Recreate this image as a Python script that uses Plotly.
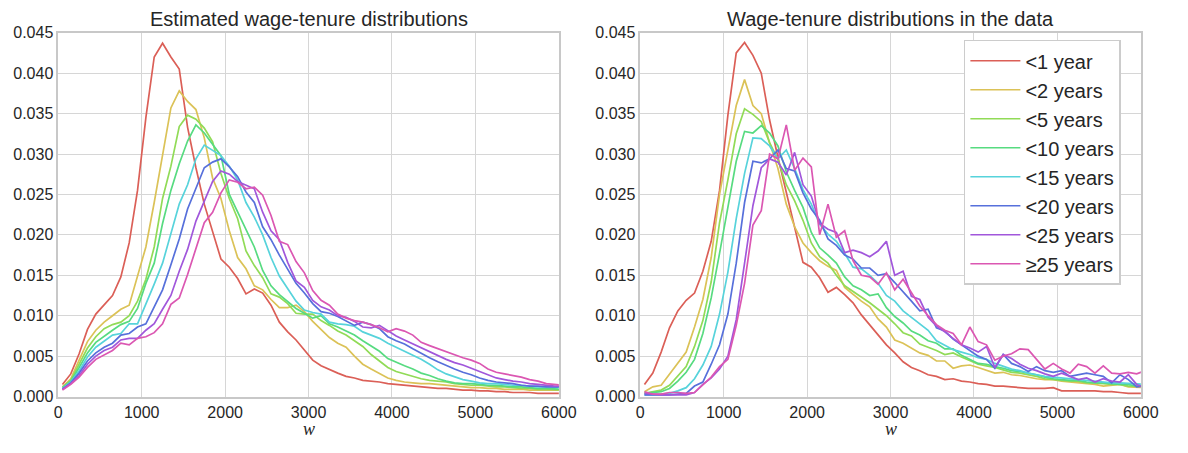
import plotly.graph_objects as go

# wage grid (bin centres)
w = [50, 150, 250, 350, 450, 550, 650, 750, 850, 950,
     1050, 1150, 1250, 1350, 1450, 1550, 1650, 1750, 1850, 1950,
     2050, 2150, 2250, 2350, 2450, 2550, 2650, 2750, 2850, 2950,
     3050, 3150, 3250, 3350, 3450, 3550, 3650, 3750, 3850, 3950,
     4050, 4150, 4250, 4350, 4450, 4550, 4650, 4750, 4850, 4950,
     5050, 5150, 5250, 5350, 5450, 5550, 5650, 5750, 5850, 5950,
     6050]

labels = ["<1 year", "<2 years", "<5 years", "<10 years",
          "<15 years", "<20 years", "<25 years", "\u226525 years"]
colors = ["#db5f57", "#dbc257", "#91db57", "#57db80",
          "#57d3db", "#5770db", "#a157db", "#db57b2"]

# ---- Estimated distributions (left panel) ----
est_lt1 = [0.0015, 0.0028, 0.0053, 0.0083, 0.0102, 0.0114, 0.0125, 0.0148, 0.0190, 0.0255,
           0.0345, 0.0420, 0.0437, 0.0420, 0.0405, 0.0333, 0.0283, 0.0238, 0.0205, 0.0170,
           0.0160, 0.0146, 0.0127, 0.0133, 0.0128, 0.0113, 0.0092, 0.0080, 0.0070, 0.0058,
           0.0045, 0.0038, 0.0033, 0.0029, 0.0025, 0.0023, 0.0020, 0.0019, 0.0018, 0.0016,
           0.0015, 0.0014, 0.0013, 0.0012, 0.0011, 0.0010, 0.0010, 0.0009, 0.0008, 0.0008,
           0.0007, 0.0007, 0.0006, 0.0006, 0.0005, 0.0005, 0.0005, 0.0004, 0.0004, 0.0004,
           0.0004]
est_lt2 = [0.0012, 0.0022, 0.0045, 0.0068, 0.0082, 0.0092, 0.0100, 0.0108, 0.0113, 0.0150,
           0.0185, 0.0240, 0.0300, 0.0357, 0.0378, 0.0365, 0.0355, 0.0320, 0.0270, 0.0245,
           0.0205, 0.0172, 0.0158, 0.0137, 0.0132, 0.0120, 0.0110, 0.0110, 0.0113, 0.0105,
           0.0093, 0.0083, 0.0073, 0.0066, 0.0061, 0.0050, 0.0040, 0.0034, 0.0029, 0.0023,
           0.0020, 0.0018, 0.0017, 0.0016, 0.0016, 0.0015, 0.0014, 0.0013, 0.0012, 0.0011,
           0.0011, 0.0010, 0.0010, 0.0009, 0.0009, 0.0009, 0.0008, 0.0008, 0.0008, 0.0008,
           0.0008]
est_lt5 = [0.0011, 0.0020, 0.0040, 0.0060, 0.0074, 0.0084, 0.0089, 0.0092, 0.0100, 0.0118,
           0.0145, 0.0185, 0.0245, 0.0285, 0.0334, 0.0348, 0.0343, 0.0332, 0.0315, 0.0276,
           0.0245, 0.0220, 0.0180, 0.0162, 0.0147, 0.0127, 0.0123, 0.0115, 0.0103, 0.0102,
           0.0102, 0.0094, 0.0088, 0.0081, 0.0076, 0.0069, 0.0062, 0.0052, 0.0044, 0.0036,
           0.0031, 0.0028, 0.0025, 0.0022, 0.0020, 0.0019, 0.0018, 0.0016, 0.0015, 0.0014,
           0.0014, 0.0013, 0.0012, 0.0012, 0.0011, 0.0010, 0.0010, 0.0009, 0.0009, 0.0008,
           0.0008]
est_lt10 = [0.0011, 0.0019, 0.0036, 0.0054, 0.0067, 0.0075, 0.0082, 0.0089, 0.0093, 0.0109,
            0.0140, 0.0165, 0.0214, 0.0255, 0.0288, 0.0316, 0.0336, 0.0326, 0.0312, 0.0298,
            0.0250, 0.0228, 0.0206, 0.0185, 0.0156, 0.0137, 0.0126, 0.0118, 0.0109, 0.0103,
            0.0097, 0.0100, 0.0090, 0.0086, 0.0081, 0.0076, 0.0069, 0.0063, 0.0056, 0.0047,
            0.0042, 0.0038, 0.0034, 0.0029, 0.0026, 0.0022, 0.0019, 0.0017, 0.0016, 0.0016,
            0.0015, 0.0014, 0.0014, 0.0013, 0.0012, 0.0012, 0.0011, 0.0010, 0.0010, 0.0009,
            0.0009]
est_lt15 = [0.0010, 0.0018, 0.0032, 0.0049, 0.0061, 0.0069, 0.0076, 0.0078, 0.0090, 0.0090,
            0.0114, 0.0139, 0.0165, 0.0203, 0.0238, 0.0262, 0.0294, 0.0311, 0.0305, 0.0298,
            0.0285, 0.0268, 0.0240, 0.0222, 0.0200, 0.0172, 0.0149, 0.0134, 0.0118, 0.0107,
            0.0104, 0.0102, 0.0092, 0.0090, 0.0089, 0.0087, 0.0080, 0.0076, 0.0072, 0.0066,
            0.0061, 0.0057, 0.0052, 0.0046, 0.0040, 0.0033, 0.0028, 0.0024, 0.0021, 0.0019,
            0.0017, 0.0016, 0.0016, 0.0015, 0.0014, 0.0014, 0.0013, 0.0012, 0.0012, 0.0011,
            0.0011]
est_lt20 = [0.0009, 0.0017, 0.0029, 0.0044, 0.0054, 0.0061, 0.0066, 0.0076, 0.0078, 0.0086,
            0.0090, 0.0110, 0.0132, 0.0163, 0.0195, 0.0232, 0.0258, 0.0283, 0.0290, 0.0294,
            0.0284, 0.0272, 0.0253, 0.0240, 0.0210, 0.0194, 0.0175, 0.0157, 0.0140, 0.0128,
            0.0115, 0.0105, 0.0103, 0.0099, 0.0094, 0.0088, 0.0092, 0.0089, 0.0084, 0.0074,
            0.0069, 0.0065, 0.0059, 0.0053, 0.0048, 0.0043, 0.0038, 0.0034, 0.0030, 0.0027,
            0.0023, 0.0020, 0.0018, 0.0017, 0.0016, 0.0014, 0.0013, 0.0013, 0.0012, 0.0012,
            0.0012]
est_lt25 = [0.0009, 0.0016, 0.0026, 0.0040, 0.0050, 0.0057, 0.0061, 0.0070, 0.0072, 0.0072,
            0.0082, 0.0090, 0.0108, 0.0125, 0.0155, 0.0182, 0.0217, 0.0241, 0.0266, 0.0279,
            0.0275, 0.0266, 0.0261, 0.0257, 0.0228, 0.0205, 0.0194, 0.0166, 0.0143, 0.0135,
            0.0119, 0.0111, 0.0107, 0.0100, 0.0098, 0.0093, 0.0086, 0.0085, 0.0088, 0.0081,
            0.0075, 0.0070, 0.0065, 0.0060, 0.0056, 0.0051, 0.0046, 0.0042, 0.0039, 0.0035,
            0.0031, 0.0027, 0.0023, 0.0021, 0.0019, 0.0018, 0.0016, 0.0015, 0.0014, 0.0013,
            0.0013]
est_ge25 = [0.0008, 0.0015, 0.0024, 0.0036, 0.0046, 0.0052, 0.0057, 0.0066, 0.0064, 0.0072,
            0.0074, 0.0079, 0.0090, 0.0114, 0.0122, 0.0151, 0.0182, 0.0215, 0.0228, 0.0252,
            0.0268, 0.0265, 0.0257, 0.0259, 0.0249, 0.0224, 0.0192, 0.0188, 0.0167, 0.0153,
            0.0131, 0.0119, 0.0113, 0.0102, 0.0097, 0.0094, 0.0092, 0.0089, 0.0085, 0.0080,
            0.0084, 0.0081, 0.0076, 0.0067, 0.0063, 0.0059, 0.0056, 0.0052, 0.0048, 0.0045,
            0.0041, 0.0034, 0.0030, 0.0028, 0.0026, 0.0024, 0.0021, 0.0019, 0.0016, 0.0015,
            0.0014]

# ---- Distributions in the data (right panel) ----
data_lt1 = [0.0015, 0.0029, 0.0055, 0.0085, 0.0106, 0.0119, 0.0128, 0.0155, 0.0192, 0.0255,
            0.0348, 0.0425, 0.0438, 0.0422, 0.0400, 0.0342, 0.0296, 0.0252, 0.0206, 0.0166,
            0.0160, 0.0147, 0.0129, 0.0135, 0.0126, 0.0116, 0.0101, 0.0089, 0.0077, 0.0064,
            0.0054, 0.0043, 0.0036, 0.0032, 0.0027, 0.0025, 0.0021, 0.0022, 0.0019, 0.0018,
            0.0016, 0.0015, 0.0013, 0.0013, 0.0012, 0.0011, 0.0010, 0.0010, 0.0010, 0.0011,
            0.0007, 0.0007, 0.0007, 0.0007, 0.0007, 0.0006, 0.0006, 0.0005, 0.0004, 0.0004,
            0.0004]
data_lt2 = [0.0006, 0.0012, 0.0014, 0.0028, 0.0042, 0.0055, 0.0086, 0.0120, 0.0172, 0.0250,
            0.0305, 0.0360, 0.0392, 0.0360, 0.0350, 0.0314, 0.0282, 0.0238, 0.0210, 0.0190,
            0.0178, 0.0168, 0.0161, 0.0156, 0.0135, 0.0126, 0.0118, 0.0111, 0.0096, 0.0086,
            0.0070, 0.0066, 0.0060, 0.0054, 0.0051, 0.0044, 0.0044, 0.0035, 0.0038, 0.0039,
            0.0036, 0.0032, 0.0029, 0.0030, 0.0027, 0.0026, 0.0024, 0.0022, 0.0021, 0.0021,
            0.0019, 0.0018, 0.0017, 0.0016, 0.0015, 0.0013, 0.0014, 0.0015, 0.0012, 0.0011,
            0.0011]
data_lt5 = [0.0004, 0.0006, 0.0008, 0.0014, 0.0025, 0.0037, 0.0062, 0.0094, 0.0142, 0.0215,
            0.0268, 0.0325, 0.0356, 0.0349, 0.0340, 0.0314, 0.0293, 0.0262, 0.0242, 0.0218,
            0.0190, 0.0173, 0.0165, 0.0150, 0.0137, 0.0130, 0.0124, 0.0116, 0.0108, 0.0100,
            0.0090, 0.0079, 0.0075, 0.0065, 0.0061, 0.0057, 0.0052, 0.0054, 0.0049, 0.0044,
            0.0040, 0.0038, 0.0036, 0.0033, 0.0030, 0.0029, 0.0027, 0.0025, 0.0022, 0.0021,
            0.0020, 0.0019, 0.0019, 0.0017, 0.0017, 0.0016, 0.0015, 0.0015, 0.0013, 0.0013,
            0.0013]
data_lt10 = [0.0004, 0.0005, 0.0006, 0.0010, 0.0019, 0.0030, 0.0046, 0.0078, 0.0122, 0.0177,
             0.0233, 0.0291, 0.0328, 0.0326, 0.0335, 0.0326, 0.0310, 0.0278, 0.0255, 0.0234,
             0.0203, 0.0184, 0.0175, 0.0165, 0.0148, 0.0137, 0.0132, 0.0125, 0.0127, 0.0110,
             0.0099, 0.0091, 0.0081, 0.0076, 0.0069, 0.0066, 0.0059, 0.0059, 0.0051, 0.0046,
             0.0041, 0.0040, 0.0037, 0.0035, 0.0032, 0.0031, 0.0029, 0.0027, 0.0024, 0.0022,
             0.0021, 0.0020, 0.0020, 0.0018, 0.0017, 0.0017, 0.0016, 0.0015, 0.0015, 0.0013,
             0.0013]
data_lt15 = [0.0002, 0.0002, 0.0003, 0.0004, 0.0007, 0.0011, 0.0022, 0.0039, 0.0062, 0.0102,
             0.0154, 0.0220, 0.0276, 0.0320, 0.0319, 0.0310, 0.0294, 0.0305, 0.0282, 0.0256,
             0.0238, 0.0213, 0.0201, 0.0192, 0.0177, 0.0160, 0.0158, 0.0150, 0.0140, 0.0125,
             0.0118, 0.0106, 0.0098, 0.0090, 0.0082, 0.0069, 0.0064, 0.0058, 0.0055, 0.0052,
             0.0048, 0.0046, 0.0041, 0.0037, 0.0034, 0.0032, 0.0029, 0.0027, 0.0025, 0.0024,
             0.0023, 0.0022, 0.0021, 0.0020, 0.0019, 0.0018, 0.0017, 0.0017, 0.0016, 0.0015,
             0.0015]
data_lt20 = [0.0002, 0.0002, 0.0002, 0.0002, 0.0003, 0.0004, 0.0013, 0.0018, 0.0040, 0.0064,
             0.0102, 0.0165, 0.0240, 0.0291, 0.0289, 0.0294, 0.0305, 0.0282, 0.0279, 0.0252,
             0.0232, 0.0218, 0.0195, 0.0187, 0.0175, 0.0170, 0.0159, 0.0159, 0.0150, 0.0152,
             0.0141, 0.0130, 0.0118, 0.0106, 0.0108, 0.0085, 0.0081, 0.0071, 0.0064, 0.0058,
             0.0050, 0.0046, 0.0035, 0.0052, 0.0041, 0.0037, 0.0031, 0.0037, 0.0032, 0.0030,
             0.0032, 0.0025, 0.0027, 0.0029, 0.0027, 0.0025, 0.0017, 0.0027, 0.0021, 0.0012,
             0.0013]
data_lt25 = [0.0004, 0.0003, 0.0002, 0.0002, 0.0002, 0.0002, 0.0005, 0.0015, 0.0023, 0.0034,
             0.0050, 0.0095, 0.0165, 0.0236, 0.0283, 0.0294, 0.0290, 0.0274, 0.0302, 0.0262,
             0.0248, 0.0214, 0.0207, 0.0203, 0.0178, 0.0181, 0.0178, 0.0173, 0.0180, 0.0192,
             0.0150, 0.0155, 0.0124, 0.0120, 0.0098, 0.0087, 0.0080, 0.0072, 0.0064, 0.0060,
             0.0055, 0.0062, 0.0036, 0.0052, 0.0047, 0.0040, 0.0035, 0.0032, 0.0028, 0.0025,
             0.0029, 0.0025, 0.0021, 0.0023, 0.0018, 0.0022, 0.0019, 0.0018, 0.0027, 0.0015,
             0.0011]
data_ge25 = [0.0006, 0.0003, 0.0003, 0.0005, 0.0005, 0.0004, 0.0005, 0.0015, 0.0024, 0.0037,
             0.0046, 0.0088, 0.0140, 0.0212, 0.0230, 0.0300, 0.0294, 0.0336, 0.0280, 0.0295,
             0.0284, 0.0200, 0.0238, 0.0197, 0.0205, 0.0168, 0.0150, 0.0148, 0.0139, 0.0153,
             0.0132, 0.0145, 0.0128, 0.0112, 0.0100, 0.0089, 0.0082, 0.0078, 0.0064, 0.0086,
             0.0068, 0.0064, 0.0045, 0.0050, 0.0053, 0.0059, 0.0058, 0.0046, 0.0034, 0.0041,
             0.0034, 0.0029, 0.0040, 0.0037, 0.0029, 0.0038, 0.0029, 0.0028, 0.0030, 0.0028,
             0.0032]

est_series = [est_lt1, est_lt2, est_lt5, est_lt10, est_lt15, est_lt20, est_lt25, est_ge25]
data_series = [data_lt1, data_lt2, data_lt5, data_lt10, data_lt15, data_lt20, data_lt25, data_ge25]

titles = ["Estimated wage-tenure distributions", "Wage-tenure distributions in the data"]
x_ticks = [0, 1000, 2000, 3000, 4000, 5000, 6000]
y_ticks = [0.000, 0.005, 0.010, 0.015, 0.020, 0.025, 0.030, 0.035, 0.040, 0.045]

fig = go.Figure()
for i in range(8):
    fig.add_trace(go.Scatter(x=w, y=est_series[i], mode="lines",
                             line=dict(color=colors[i], width=1.7),
                             showlegend=False, xaxis="x", yaxis="y",
                             hoverinfo="skip"))
for i in range(8):
    fig.add_trace(go.Scatter(x=w, y=data_series[i], mode="lines", name=labels[i],
                             line=dict(color=colors[i], width=1.7),
                             legendgroup="g%d" % i,
                             showlegend=True, xaxis="x2", yaxis="y2",
                             hoverinfo="skip"))

W, H = 1188, 453
left_dom = [55.3 / W, 565.3 / W]
right_dom = [648.3 / W, 1158.3 / W]
y_dom = [(H - 403.7) / H, (H - 25.7) / H]

FONT = "Liberation Sans, Arial, sans-serif"
axis_common = dict(showgrid=True, gridcolor="#d6d6d6", gridwidth=1.3,
                   showline=True, mirror=True, linecolor="#c8c8c8", linewidth=1.5,
                   zeroline=False, ticks="",
                   tickfont=dict(family=FONT, size=16, color="#262626"))

fig.update_layout(
    width=W, height=H, autosize=False,
    margin=dict(l=0, r=0, t=0, b=0),
    paper_bgcolor="white", plot_bgcolor="white",
    font=dict(family=FONT, color="#262626"),
    xaxis=dict(domain=left_dom, range=[0, 6000], tickvals=x_ticks, anchor="y", **axis_common),
    yaxis=dict(domain=y_dom, range=[0, 0.045], tickvals=y_ticks, tickformat=".3f", anchor="x", **axis_common),
    xaxis2=dict(domain=right_dom, range=[0, 6000], tickvals=x_ticks, anchor="y2", **axis_common),
    yaxis2=dict(domain=y_dom, range=[0, 0.045], tickvals=y_ticks, tickformat=".3f", anchor="x2", **axis_common),
    legend=dict(x=978 / W, y=(H - 33) / H, xanchor="left", yanchor="top",
                bgcolor="white", bordercolor="#cccccc", borderwidth=1.5,
                font=dict(family=FONT, size=20, color="#262626"),
                itemwidth=50, tracegroupgap=0),
)

annotations = []
for dom, t in zip([left_dom, right_dom], titles):
    cx = (dom[0] + dom[1]) / 2
    annotations.append(dict(x=cx, y=(H - 11) / H, xref="paper", yref="paper",
                            text=t, showarrow=False, xanchor="center", yanchor="middle",
                            font=dict(family=FONT, size=20, color="#262626")))
    annotations.append(dict(x=cx, y=(H - 437) / H, xref="paper", yref="paper",
                            text="<i>w</i>", showarrow=False, xanchor="center", yanchor="middle",
                            font=dict(family="Liberation Serif, DejaVu Serif, serif", size=18, color="#262626")))
fig.update_layout(annotations=annotations)

fig.write_html("out.html", config={"displayModeBar": False})
